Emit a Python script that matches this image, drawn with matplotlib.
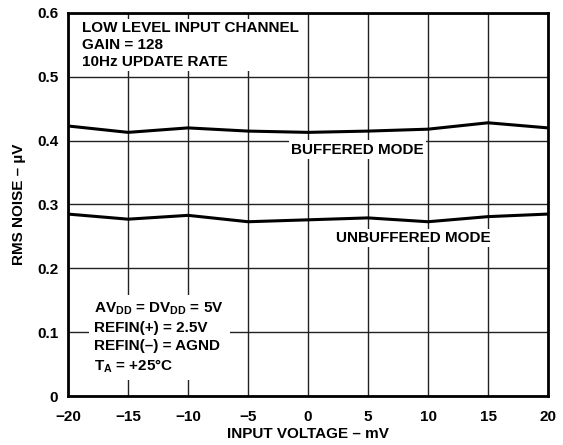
import matplotlib
matplotlib.use("Agg")
import matplotlib.pyplot as plt

# Data
input_mv = [-20, -15, -10, -5, 0, 5, 10, 15, 20]
buffered = [0.423, 0.413, 0.420, 0.415, 0.413, 0.415, 0.418, 0.428, 0.420]
unbuffered = [0.285, 0.277, 0.283, 0.273, 0.276, 0.279, 0.273, 0.281, 0.285]
x_ticks = [-20, -15, -10, -5, 0, 5, 10, 15, 20]
x_tick_labels = ["\u221220", "\u221215", "\u221210", "\u22125", "0", "5", "10", "15", "20"]
y_ticks = [0, 0.1, 0.2, 0.3, 0.4, 0.5, 0.6]
y_tick_labels = ["0", "0.1", "0.2", "0.3", "0.4", "0.5", "0.6"]

plt.rcParams['font.family'] = ['Liberation Sans', 'DejaVu Sans']
plt.rcParams['font.weight'] = 'bold'
plt.rcParams['mathtext.fontset'] = 'custom'
plt.rcParams['mathtext.rm'] = 'Liberation Sans:bold'
plt.rcParams['mathtext.bf'] = 'Liberation Sans:bold'
plt.rcParams['mathtext.default'] = 'bf'

FS = 11

fig = plt.figure(figsize=(5.63, 4.45), dpi=100)
ax = fig.add_axes([0.1208, 0.1101, 0.8526, 0.8607])

ax.set_xlim(-20, 20)
ax.set_ylim(0, 0.6)
ax.set_xticks(x_ticks)
ax.set_xticklabels(x_tick_labels, fontsize=FS, fontweight='bold')
ax.set_yticks(y_ticks)
ax.set_yticklabels(y_tick_labels, fontsize=FS, fontweight='bold')
ax.tick_params(axis='x', length=0, pad=10)
ax.tick_params(axis='y', length=0, pad=7)
ax.grid(True, color='#222222', linewidth=1.0, zorder=1)
for s in ax.spines.values():
    s.set_linewidth(2.0)
    s.set_zorder(5)

ax.plot(input_mv, buffered, color='black', linewidth=2.2, zorder=3)
ax.plot(input_mv, unbuffered, color='black', linewidth=2.2, zorder=3)

ax.set_xlabel("INPUT VOLTAGE \u2013 mV", fontsize=FS, fontweight='bold', labelpad=2)
ax.set_ylabel("RMS NOISE \u2013 \u00b5V", fontsize=FS, fontweight='bold', labelpad=8)

box = dict(facecolor='white', edgecolor='none', pad=1.5)
ax.text(-18.8, 0.588, "LOW LEVEL INPUT CHANNEL\nGAIN = 128\n10Hz UPDATE RATE",
        fontsize=FS, fontweight='bold', va='top', ha='left', linespacing=1.28,
        bbox=box, zorder=4)
ax.text(4.1, 0.386, "BUFFERED MODE", fontsize=FS, fontweight='bold',
        ha='center', va='center', bbox=box, zorder=4)
ax.text(8.75, 0.248, "UNBUFFERED MODE", fontsize=FS, fontweight='bold',
        ha='center', va='center', bbox=box, zorder=4)

ax.text(-17.8, 0.0915, r"AV$_{\mathbf{DD}}$ = DV$_{\mathbf{DD}}$ = 5V" + "\n"
        + "REFIN(+) = 2.5V\nREFIN(\u2013) = AGND\n" + r"T$_{\mathbf{A}}$ = +25" + "\u00b0C",
        fontsize=FS, fontweight='bold', va='center', ha='left', linespacing=1.35,
        bbox=dict(facecolor='white', edgecolor='none', pad=4), zorder=4)

fig.savefig("out.png", dpi=100)
